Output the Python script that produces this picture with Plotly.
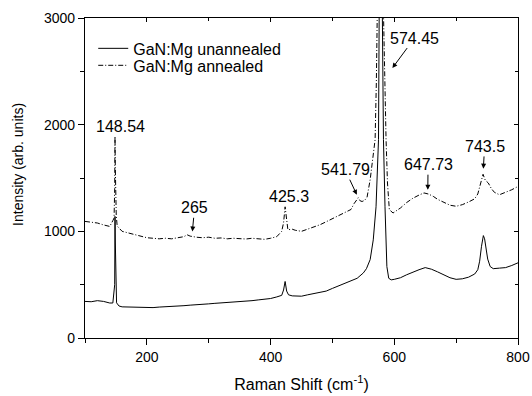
import plotly.graph_objects as go

# ---- data ----
x_unann = [100, 110, 120, 130, 140, 145, 148, 148.5, 149, 151, 155, 160, 170, 180, 190, 200,
           210, 220, 230, 240, 250, 260, 270, 280, 290, 300, 310, 320, 330, 340, 350, 360,
           370, 380, 390, 400, 410, 418, 421, 423.5, 426, 429, 435, 440, 450, 460, 470, 480,
           490, 500, 510, 520, 530, 540, 550, 555, 561, 566, 570.5, 573, 574.5, 576, 578,
           580, 582.5, 585, 588, 591, 595, 600, 610, 620, 630, 640, 650, 660, 670, 680, 690,
           700, 710, 720, 730, 735, 738, 741, 744, 746, 748, 751, 755, 760, 770, 780, 790, 800]
y_unann = [343, 340, 350, 343, 328, 328, 500, 1140, 900, 330, 300, 292, 290, 287, 284, 282,
           285, 290, 292, 296, 300, 303, 308, 310, 315, 320, 325, 328, 333, 336, 340, 345,
           350, 357, 362, 370, 385, 400, 450, 530, 440, 405, 395, 392, 392, 405, 415, 425,
           440, 465, 490, 510, 535, 560, 610, 650, 735, 920, 1230, 1550, 1860, 3500, 5000,
           3500, 1860, 1230, 670, 560, 545, 550, 565, 593, 620, 640, 660, 645, 620, 595, 565,
           550, 555, 570, 600, 640, 720, 860, 960, 930, 840, 740, 670, 650, 655, 660, 680, 705]

x_ann = [100, 110, 120, 130, 140, 145, 147, 148, 148.5, 149, 150.5, 152, 160, 170, 180, 190,
         200, 210, 220, 230, 240, 250, 260, 265, 270, 280, 290, 300, 310, 320, 330, 340, 350,
         360, 370, 380, 390, 400, 410, 418, 421, 423.5, 425.5, 428, 435, 440, 450, 460, 470,
         480, 490, 500, 510, 520, 530, 535, 538, 541.8, 545, 548, 552, 556, 561, 566, 569,
         571, 573, 577, 582, 584.5, 586.7, 589, 592, 598, 605, 610, 620, 630, 640, 648, 655,
         663, 670, 680, 690, 700, 710, 720, 730, 735, 739, 743.5, 747, 752, 757, 762, 770,
         780, 790, 800]
y_ann = [1093, 1085, 1078, 1060, 1046, 1100, 1125, 1400, 1890, 1600, 1150, 1050, 1000, 985,
         968, 955, 940, 935, 930, 935, 930, 940, 950, 968, 955, 945, 940, 945, 935, 938, 930,
         935, 932, 928, 935, 930, 925, 935, 950, 1000, 1080, 1230, 1100, 1015, 1020, 1010,
         1000, 1020, 1045, 1062, 1090, 1120, 1150, 1180, 1205, 1260, 1290, 1315, 1285, 1280,
         1290, 1320, 1484, 1734, 1860, 2400, 3200, 5000, 3200, 2400, 1860, 1453, 1203, 1172,
         1195, 1219, 1270, 1310, 1340, 1360, 1350, 1328, 1300, 1270, 1245, 1235, 1250, 1275,
         1305, 1350, 1450, 1535, 1480, 1453, 1400, 1365, 1343, 1365, 1390, 1421]

peak_labels = ["148.54", "265", "425.3", "541.79", "647.73", "743.5", "574.45"]
label_x = [156.7, 277.2, 430, 520.5, 654.6, 746, 632.8]
label_y = [1981, 1221, 1327, 1578, 1625, 1796, 2812]
# arrow heads; None where the label has no arrow
arrow_head_x = [None, 273.6, None, 539.4, 654.2, 744.0, 596.9]
arrow_head_y = [None, 999, None, 1343, 1390, 1587, 2531]

x_ticks = [200, 400, 600, 800]
y_ticks = [0, 1000, 2000, 3000]

FONT = "Liberation Sans, Arial, sans-serif"

fig = go.Figure()
fig.add_trace(go.Scatter(x=x_unann, y=y_unann, mode="lines", name="GaN:Mg unannealed",
                         legend="legend", line=dict(color="black", width=1)))
fig.add_trace(go.Scatter(x=x_ann, y=y_ann, mode="lines", name="GaN:Mg annealed",
                         legend="legend2",
                         line=dict(color="black", width=1, dash="5px,2px,1px,2px")))
# empty trace to create the mirrored (top/right) axes
fig.add_trace(go.Scatter(x=[], y=[], xaxis="x2", yaxis="y2", showlegend=False,
                         hoverinfo="skip"))

annotations = []
for t, lx, ly, hx, hy in zip(peak_labels, label_x, label_y, arrow_head_x, arrow_head_y):
    font = dict(family=FONT, size=16, color="black")
    if hx is None:
        annotations.append(dict(x=lx, y=ly, xref="x", yref="y", text=t,
                                showarrow=False, font=font))
    else:
        annotations.append(dict(x=hx, y=hy, ax=lx, ay=ly, xref="x", yref="y",
                                axref="x", ayref="y", text=t, showarrow=True,
                                arrowhead=2, arrowsize=1, arrowwidth=1,
                                arrowcolor="black", font=font))
annotations.append(dict(x=-0.1547, y=0.541, xref="paper", yref="paper",
                        xanchor="center", yanchor="middle",
                        text="Intensity (arb. units)", textangle=-90, showarrow=False,
                        font=dict(family=FONT, size=14, color="black")))

axis_common = dict(showline=True, linecolor="black", linewidth=1.3, showgrid=False,
                   zeroline=False, mirror=False, automargin=False)
legend_common = dict(xanchor="left", yanchor="top", bgcolor="rgba(0,0,0,0)",
                     font=dict(family=FONT, size=16), itemwidth=30)

fig.update_layout(
    width=532, height=396, autosize=False,
    margin=dict(l=85, r=14, t=18, b=58, autoexpand=False),
    paper_bgcolor="white", plot_bgcolor="white",
    font=dict(family=FONT, size=14, color="black"),
    showlegend=True,
    legend=dict(x=0.019, y=0.958, **legend_common),
    legend2=dict(x=0.019, y=0.905, **legend_common),
    xaxis=dict(range=[100, 800], tickvals=x_ticks, ticks="outside", ticklen=6,
               tickwidth=1, tickcolor="black",
               minor=dict(dtick=100, tick0=0, ticks="outside", ticklen=4,
                          tickcolor="black"),
               title=dict(text="Raman Shift (cm<sup>-1</sup>)",
                          font=dict(family=FONT, size=16), standoff=14),
               tickfont=dict(family=FONT, size=14), **axis_common),
    yaxis=dict(range=[0, 3000], tickvals=y_ticks, ticks="outside", ticklen=6,
               tickwidth=1, tickcolor="black",
               minor=dict(dtick=500, tick0=0, ticks="outside", ticklen=4,
                          tickcolor="black"),
               tickfont=dict(family=FONT, size=14), **axis_common),
    xaxis2=dict(overlaying="x", matches="x", anchor="y", side="top",
                range=[100, 800], tickvals=x_ticks, ticks="inside", ticklen=4,
                tickcolor="black", showticklabels=False,
                minor=dict(dtick=100, tick0=0, ticks="inside", ticklen=3,
                           tickcolor="black"),
                **axis_common),
    yaxis2=dict(overlaying="y", matches="y", anchor="x", side="right",
                range=[0, 3000], tickvals=y_ticks, ticks="inside", ticklen=4,
                tickcolor="black", showticklabels=False,
                minor=dict(dtick=500, tick0=0, ticks="inside", ticklen=3,
                           tickcolor="black"),
                **axis_common),
    annotations=annotations,
)

fig.write_html("out.html", config={"displayModeBar": False},
               post_script="document.body.style.margin='0';")
